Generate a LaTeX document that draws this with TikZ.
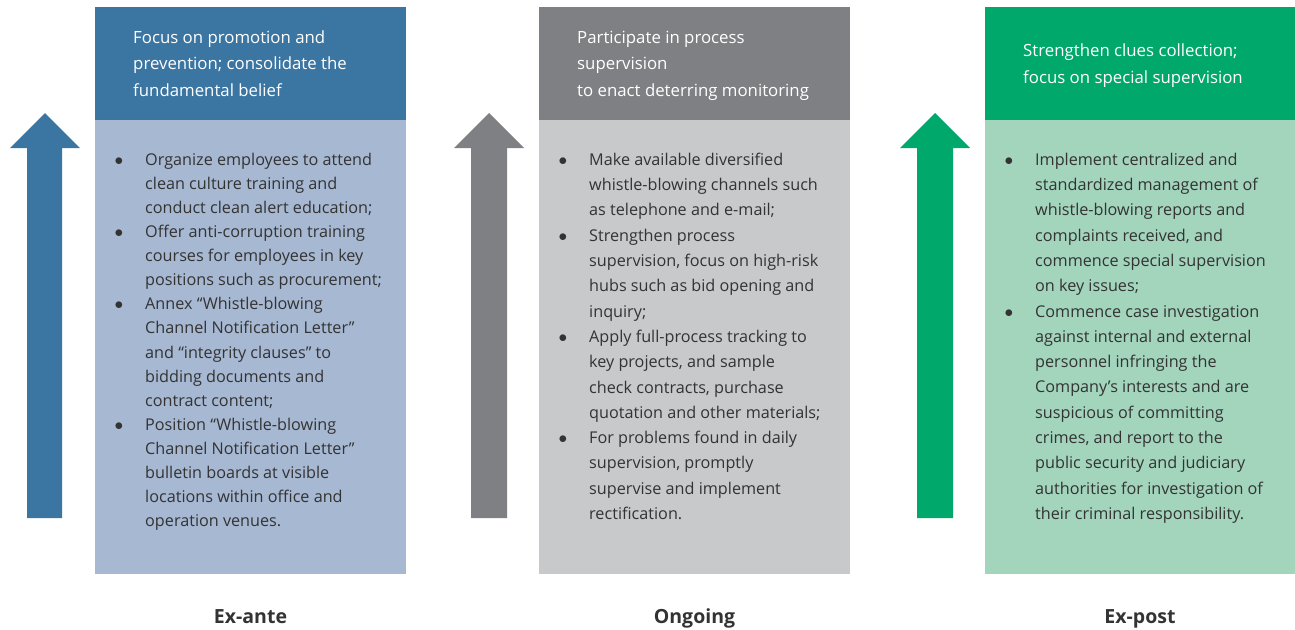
\documentclass[tikz,border=0pt]{standalone}
\usepackage{fontspec}
\setmainfont{Open Sans}

\definecolor{blueH}{HTML}{3B75A2}
\definecolor{blueL}{HTML}{A7B8D2}
\definecolor{grayH}{HTML}{7F8083}
\definecolor{grayL}{HTML}{C8C9CB}
\definecolor{greenH}{HTML}{00A86B}
\definecolor{greenL}{HTML}{A3D5BD}
\definecolor{txt}{HTML}{333333}

\newcommand{\bul}{\llap{$\bullet$\hspace{22pt}}}

\begin{document}
\begin{tikzpicture}[x=1pt, y=-1pt,
    head/.style = {anchor=west, align=left, inner sep=0, text=white, font=\fontsize{16.8}{26.5}\selectfont},
    body/.style = {anchor=north west, align=left, inner sep=0, text=txt, font=\fontsize{16.2}{24.1}\selectfont},
    widebody/.style = {body, font=\fontsize{16.2}{25.3}\selectfont},
    lab/.style = {anchor=base, inner sep=0, text=txt, font=\fontsize{19.5}{22}\selectfont\bfseries}]

\useasboundingbox (0,0) rectangle (1295,629);

% Ex-ante
\fill[blueL] (95,120) rectangle (406,574);
\fill[blueH] (95,7) rectangle (406,120);
\fill[blueH] (27,518) -- (27,148) -- (10,148) -- (45,113) -- (80,148) -- (62,148) -- (62,518) -- cycle;
\node[head] (h1) at (133,63.5) {Focus on promotion and\\prevention; consolidate the\\fundamental belief};
\node[body] (b1) at (145,152.7) {\bul Organize employees to attend\\
    clean culture training and\\
    conduct clean alert education;\\
    \bul Offer anti-corruption training\\
    courses for employees in key\\
    positions such as procurement;\\
    \bul Annex “Whistle-blowing\\
    Channel Notification Letter”\\
    and “integrity clauses” to\\
    bidding documents and\\
    contract content;\\
    \bul Position “Whistle-blowing\\
    Channel Notification Letter”\\
    bulletin boards at visible\\
    locations within office and\\
    operation venues.};
\node[lab] (l1) at (250.5,623) {Ex-ante};

% Ongoing
\fill[grayL] (539,120) rectangle (850,574);
\fill[grayH] (539,7) rectangle (850,120);
\fill[grayH] (471,518) -- (471,148) -- (454,148) -- (489,113) -- (524,148) -- (507,148) -- (507,518) -- cycle;
\node[head] (h2) at (577,65.5) {Participate in process\\supervision\\to enact deterring monitoring};
\node[widebody] (b2) at (589,152.7) {\bul Make available diversified\\
    whistle-blowing channels such\\
    as telephone and e-mail;\\
    \bul Strengthen process\\
    supervision, focus on high-risk\\
    hubs such as bid opening and\\
    inquiry;\\
    \bul Apply full-process tracking to\\
    key projects, and sample\\
    check contracts, purchase\\
    quotation and other materials;\\
    \bul For problems found in daily\\
    supervision, promptly\\
    supervise and implement\\
    rectification.};
\node[lab] (l2) at (694.5,623) {Ongoing};

% Ex-post
\fill[greenL] (985,120) rectangle (1295,574);
\fill[greenH] (985,7) rectangle (1295,120);
\fill[greenH] (917,518) -- (917,148) -- (900,148) -- (935,113) -- (970,148) -- (953,148) -- (953,518) -- cycle;
\node[head] (h3) at (1023,65.5) {Strengthen clues collection;\\focus on special supervision};
\node[widebody] (b3) at (1035,152.7) {\bul Implement centralized and\\
    standardized management of\\
    whistle-blowing reports and\\
    complaints received, and\\
    commence special supervision\\
    on key issues;\\
    \bul Commence case investigation\\
    against internal and external\\
    personnel infringing the\\
    Company’s interests and are\\
    suspicious of committing\\
    crimes, and report to the\\
    public security and judiciary\\
    authorities for investigation of\\
    their criminal responsibility.};
\node[lab] (l3) at (1140,623) {Ex-post};

\end{tikzpicture}
\end{document}
